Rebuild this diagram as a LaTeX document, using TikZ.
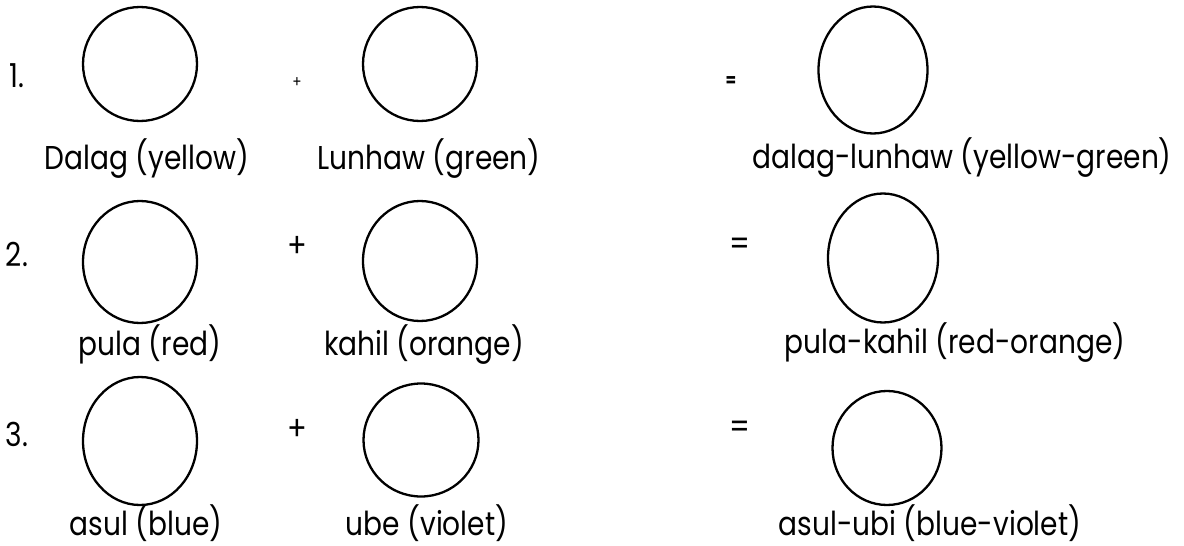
\documentclass[tikz,border=0pt]{standalone}
\usepackage{fontspec}
\setmainfont{Poppins}[FakeStretch=0.85]
\usetikzlibrary{shapes.geometric}
\begin{document}
\begin{tikzpicture}[x=1pt,y=-1pt]
        \tikzset{blob/.style = {shape=ellipse,draw,line width=2.3pt,inner sep=0pt}}
        \tikzset{colname/.style = {anchor=base,inner sep=0pt,font=\fontsize{33}{40}\selectfont}}
        \tikzset{sign/.style = {inner sep=0pt,font=\fontsize{34}{40}\selectfont}}
        \useasboundingbox (0,0) rectangle (1184,546);
        % row 1
        \node[colname] (n1) at (17,87) {1.};
        \node[blob,minimum width=114pt,minimum height=114pt] (a1) at (140,64) {};
        \node[inner sep=0pt,font=\fontsize{16}{18}\selectfont] (p1) at (297,83) {+};
        \node[blob,minimum width=114pt,minimum height=114pt] (a2) at (420,64) {};
        \node[inner sep=0pt,font=\fontsize{18}{20}\selectfont\bfseries] (e1) at (731,82) {=};
        \node[blob,minimum width=109pt,minimum height=127pt] (a3) at (873,70) {};
        \node[colname] (la1) at (147,169) {Dalag (yellow)};
        \node[colname] (la2) at (429,169) {Lunhaw (green)};
        \node[colname] (la3) at (962,168) {dalag-lunhaw (yellow-green)};
        % row 2
        \node[colname] (n2) at (17,266) {2.};
        \node[blob,minimum width=114pt,minimum height=122pt] (b1) at (140,262) {};
        \node[sign] (p2) at (297,247) {+};
        \node[blob,minimum width=114pt,minimum height=120pt] (b2) at (420,261) {};
        \node[sign] (e2) at (740,247) {=};
        \node[blob,minimum width=110pt,minimum height=129pt] (b3) at (883,258) {};
        \node[colname] (lb1) at (150,355) {pula (red)};
        \node[colname] (lb2) at (424,355) {kahil (orange)};
        \node[colname] (lb3) at (955,353) {pula-kahil (red-orange)};
        % row 3
        \node[colname] (n3) at (17,446) {3.};
        \node[blob,minimum width=114pt,minimum height=128pt] (c1) at (140,441) {};
        \node[sign] (p3) at (297,430) {+};
        \node[blob,minimum width=115pt,minimum height=113pt] (c2) at (421,440) {};
        \node[sign] (e3) at (740,430) {=};
        \node[blob,minimum width=109pt,minimum height=114pt] (c3) at (887,448) {};
        \node[colname] (lc1) at (146,535) {asul (blue)};
        \node[colname] (lc2) at (427,535) {ube (violet)};
        \node[colname] (lc3) at (930,535) {asul-ubi (blue-violet)};
    \end{tikzpicture}
\end{document}
